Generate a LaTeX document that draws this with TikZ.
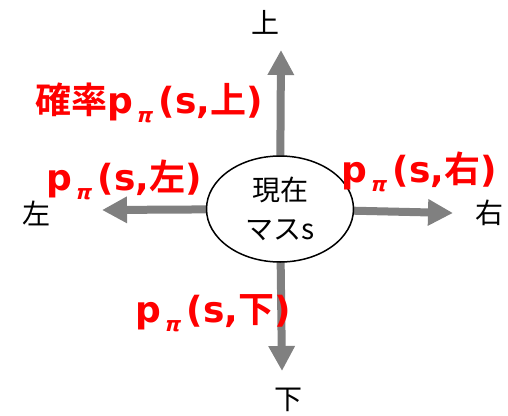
\documentclass[tikz,border=0pt]{standalone}
\usepackage{fontspec}
\usetikzlibrary{arrows.meta,shapes.geometric,backgrounds}
\newfontfamily\jp{Noto Sans CJK JP}
\newfontfamily\jpb{Noto Sans CJK JP Bold}
\newfontfamily\latb{DejaVu Sans Bold}
\newfontfamily\pifont[FakeSlant=0.25]{DejaVu Sans Bold}
\definecolor{arrgray}{RGB}{128,128,128}
\definecolor{lblred}{RGB}{255,0,0}
\newcommand{\ppi}[1]{{\latb p}\hspace{3pt}\raisebox{-9pt}{\pifont\fontsize{20}{20}\selectfont π}\hspace{7pt}{\latb (s,}#1{\latb )}}
\tikzset{
  arr/.style={draw=arrgray, line width=8pt, -{Triangle[length=25pt,width=25pt]}},
  dirlbl/.style={font=\jp\fontsize{28}{28}\selectfont, inner sep=0pt, text=black},
  prob/.style={font=\jpb\fontsize{36}{36}\selectfont, inner sep=0pt, text=lblred},
  center/.style={ellipse, draw=black, line width=1.5pt, fill=white, minimum width=147pt, minimum height=106pt, inner sep=0pt, align=center, font=\jp\fontsize{28}{42}\selectfont}
}
\begin{document}
\begin{tikzpicture}[x=1pt,y=-1pt]
\useasboundingbox (0,0) rectangle (508,415);
\node[center] (c) at (280,209) {\raisebox{-3pt}{現在}\\マスs};
\coordinate (tu) at (281,50);
\coordinate (td) at (282,371);
\coordinate (tl) at (102,210);
\coordinate (tr) at (453,213);
\begin{scope}[on background layer]
\draw[arr] (c.center) -- (tu);
\draw[arr] (c.center) -- (td);
\draw[arr] (c.center) -- (tl);
\draw[arr] (c.center) -- (tr);
\end{scope}
\node[dirlbl] (lu) at (265,22) {上};
\node[dirlbl] (ld) at (288,400) {下};
\node[dirlbl] (ll) at (36,213) {左};
\node[dirlbl] (lr) at (489,213) {右};
\node[prob] (pu) at (149,103) {確率\ppi{上}};
\node[prob] (pl) at (124,180) {\ppi{左}};
\node[prob] (pr) at (419,172) {\ppi{右}};
\node[prob] (pd) at (213,313) {\ppi{下}};
\end{tikzpicture}
\end{document}
